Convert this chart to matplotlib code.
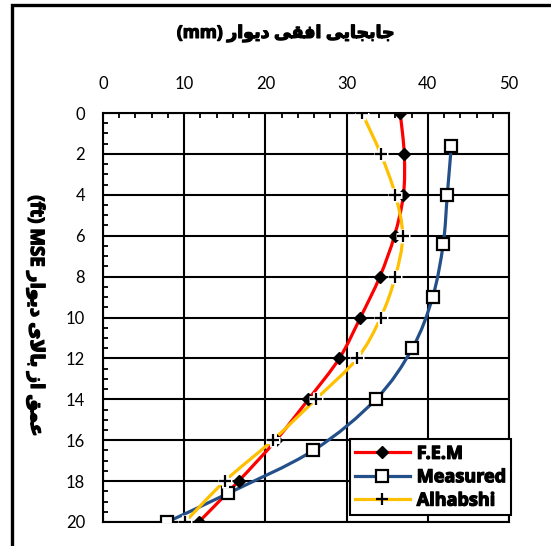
import matplotlib
matplotlib.use('Agg')
import matplotlib.pyplot as plt
import matplotlib.patheffects as pe
from matplotlib.path import Path
from matplotlib.patches import PathPatch, Rectangle
from matplotlib.lines import Line2D
from matplotlib.ticker import MultipleLocator

# data (depth in ft, wall displacement in mm)
depth = [0, 2, 4, 6, 8, 10, 12, 14, 16, 18, 20]
fem = [36.6, 37.1, 37.0, 35.9, 34.1, 31.7, 29.1, 25.3, 21.3, 16.7, 11.8]
alhabshi = [31.9, 34.2, 36.0, 36.9, 36.0, 34.2, 31.3, 26.2, 20.9, 15.0, 10.1]
depth_measured = [1.6, 4.0, 6.4, 9.0, 11.5, 14.0, 16.5, 18.6, 20.0]
measured = [42.9, 42.4, 41.9, 40.6, 38.1, 33.6, 25.9, 15.4, 7.9]

x_ticks = [0, 10, 20, 30, 40, 50]
y_ticks = list(range(0, 21, 2))

# persian text: matplotlib has no shaping, so pick presentation forms by hand
FORMS = {
    'ا': ('\uFE8D', '\uFE8E', None, None),
    'ب': ('\uFE8F', '\uFE90', '\uFE91', '\uFE92'),
    'ج': ('\uFE9D', '\uFE9E', '\uFE9F', '\uFEA0'),
    'د': ('\uFEA9', '\uFEAA', None, None),
    'ر': ('\uFEAD', '\uFEAE', None, None),
    'ز': ('\uFEAF', '\uFEB0', None, None),
    'ع': ('\uFEC9', '\uFECA', '\uFECB', '\uFECC'),
    'ف': ('\uFED1', '\uFED2', '\uFED3', '\uFED4'),
    'ق': ('\uFED5', '\uFED6', '\uFED7', '\uFED8'),
    'ل': ('\uFEDD', '\uFEDE', '\uFEDF', '\uFEE0'),
    'م': ('\uFEE1', '\uFEE2', '\uFEE3', '\uFEE4'),
    'و': ('\uFEED', '\uFEEE', None, None),
    'ی': ('\uFBFC', '\uFBFD', '\uFBFE', '\uFBFF'),
    'لا': ('\uFEFB', '\uFEFC', None, None),
}


def shape(word):
    toks = []
    i = 0
    while i < len(word):
        if word[i] == 'ل' and i + 1 < len(word) and word[i + 1] == 'ا':
            toks.append('لا')
            i += 2
        else:
            toks.append(word[i])
            i += 1
    out = ''
    for k, t in enumerate(toks):
        iso, fin, ini, med = FORMS[t]
        prev = k > 0 and FORMS[toks[k - 1]][2] is not None
        nxt = k < len(toks) - 1 and ini is not None
        if prev and nxt:
            out += med
        elif prev:
            out += fin
        elif nxt:
            out += ini
        else:
            out += iso
    return out[::-1]


def rtl(text):
    return ' '.join(shape(w) for w in reversed(text.split()))


title = '(mm) ' + rtl('جابجایی افقی دیوار')
ylabel = '(ft) MSE ' + rtl('عمق از بالای دیوار')


def smooth_path(xs, ys):
    # catmull-rom style bezier, like excel's smoothed line
    pts = list(zip(xs, ys))
    verts = [pts[0]]
    codes = [Path.MOVETO]
    n = len(pts)
    for i in range(n - 1):
        p0 = pts[i - 1] if i > 0 else pts[i]
        p1 = pts[i]
        p2 = pts[i + 1]
        p3 = pts[i + 2] if i + 2 < n else pts[i + 1]
        c1 = (p1[0] + (p2[0] - p0[0]) / 6, p1[1] + (p2[1] - p0[1]) / 6)
        c2 = (p2[0] - (p3[0] - p1[0]) / 6, p2[1] - (p3[1] - p1[1]) / 6)
        verts += [c1, c2, p2]
        codes += [Path.CURVE4] * 3
    return Path(verts, codes)


fonts = ['Lato', 'DejaVu Sans']
bold_fonts = ['Open Sans', 'DejaVu Sans']
plt.rcParams['font.family'] = fonts
heavy = [pe.withStroke(linewidth=0.9, foreground='black')]

red = '#FF0000'
blue = '#24508A'
yellow = '#FFC000'
lw = 2.3

fig = plt.figure(figsize=(5.51, 5.46), dpi=100)
ax = fig.add_axes([103 / 551, 1 - 522 / 546, 406 / 551, 409 / 546])

for xs, ys, c in [(fem, depth, red), (measured, depth_measured, blue), (alhabshi, depth, yellow)]:
    ax.add_patch(PathPatch(smooth_path(xs, ys), fill=False, edgecolor=c, lw=lw,
                           capstyle='butt', zorder=3))

ax.plot(fem, depth, ls='none', marker='D', ms=6.5, color='black', zorder=4)
ax.plot(measured, depth_measured, ls='none', marker='s', ms=8, mfc='white',
        mec='black', mew=1.6, zorder=4)
ax.plot(alhabshi, depth, ls='none', marker='+', ms=10, mew=5, color='white', zorder=4)
ax.plot(alhabshi, depth, ls='none', marker='+', ms=8, mew=1.6, color='black', zorder=5)

ax.set_xlim(0, 50)
ax.set_ylim(20, 0)
ax.set_xticks(x_ticks)
ax.set_yticks(y_ticks)
ax.xaxis.set_minor_locator(MultipleLocator(2))
ax.yaxis.set_minor_locator(MultipleLocator(0.5))
ax.xaxis.tick_top()
ax.tick_params(axis='x', which='both', direction='in', top=True, bottom=False,
               labeltop=True, labelbottom=False, labelsize=12, pad=15, width=1.3)
ax.tick_params(axis='y', which='both', direction='in', left=True, right=False,
               labelsize=12, pad=13, width=1.3)
ax.tick_params(which='major', length=4)
ax.tick_params(which='minor', length=3.5)
ax.set_axisbelow(True)
ax.grid(True, which='major', color='black', lw=1.5)
for s in ax.spines.values():
    s.set_linewidth(1.5)

handles = [
    Line2D([], [], color=red, lw=lw, marker='D', ms=6.5, mfc='black', mec='black'),
    Line2D([], [], color=blue, lw=lw, marker='s', ms=8, mfc='white', mec='black', mew=1.6),
    Line2D([], [], color=yellow, lw=lw, marker='+', ms=8, mec='black', mew=1.6),
]
leg = ax.legend(handles, ['F.E.M', 'Measured', 'Alhabshi'], loc='lower right',
                bbox_to_anchor=(1.005, 0.017), borderaxespad=0, fancybox=False,
                framealpha=1, edgecolor='black', handlelength=3.0, numpoints=1,
                prop={'family': bold_fonts, 'weight': 'bold', 'size': 13},
                labelspacing=0.3, borderpad=0.3, handletextpad=0.4)
leg.get_frame().set_linewidth(1.5)
leg.set_zorder(10)
for t in leg.get_texts():
    t.set_path_effects(heavy)

fig.text(286 / 551, 1 - 33 / 546, title, ha='center', va='center',
         fontsize=12.5, fontweight='bold', family=bold_fonts, path_effects=heavy)
fig.text(36 / 551, 1 - 316 / 546, ylabel, ha='center', va='center', rotation=-90,
         fontsize=13.5, fontweight='bold', family=bold_fonts, path_effects=heavy)

# outer chart border, cropped at right and bottom in the original
fig.patches.append(Rectangle((12 / 551, -0.2), 1.5, 0.2 + 1 - 5 / 546,
                             transform=fig.transFigure, fill=False, lw=2.4,
                             edgecolor='black', clip_on=False))

fig.savefig('out.png', dpi=100)
